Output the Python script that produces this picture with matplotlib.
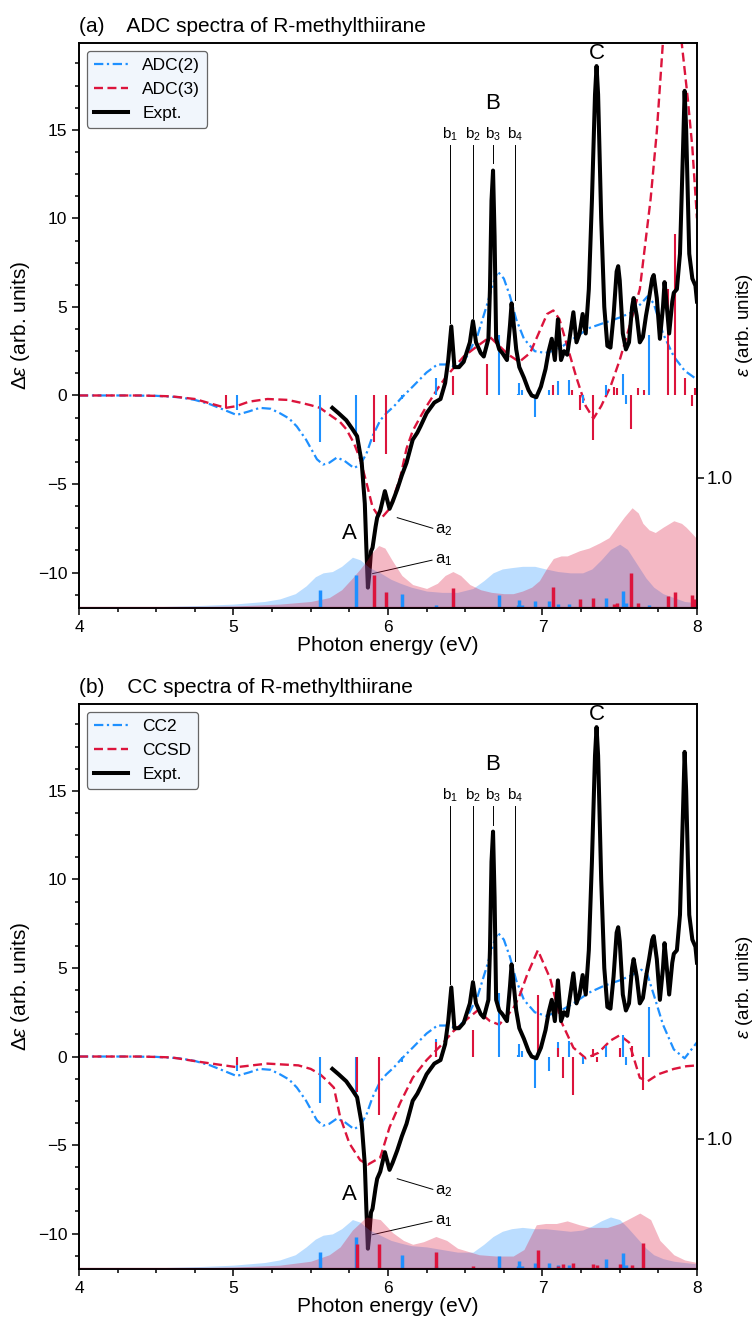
import matplotlib.pyplot as plt
from matplotlib.ticker import MultipleLocator

plt.rcParams['font.family'] = ['Liberation Sans', 'DejaVu Sans']
plt.rcParams['mathtext.fontset'] = 'custom'
plt.rcParams['mathtext.rm'] = 'Liberation Sans'
plt.rcParams['mathtext.it'] = 'Liberation Sans:italic'
plt.rcParams['mathtext.default'] = 'regular'

BLUE = '#1e90ff'
RED = '#dc143c'

# ---- experiment (same in both panels) ----
expt_E = [5.64, 5.68, 5.73, 5.77, 5.80, 5.83, 5.85, 5.86, 5.87, 5.88, 5.89, 5.90,
          5.92, 5.93, 5.95, 5.98, 6.01, 6.03, 6.06, 6.09, 6.12, 6.16, 6.19, 6.21,
          6.25, 6.30, 6.34, 6.37, 6.39, 6.41, 6.43, 6.46, 6.49, 6.53, 6.55, 6.57,
          6.60, 6.62, 6.65, 6.66, 6.67, 6.68, 6.69, 6.70, 6.72, 6.74, 6.77, 6.79,
          6.80, 6.82, 6.83, 6.85, 6.88, 6.91, 6.93, 6.96, 6.99, 7.02, 7.04, 7.06,
          7.08, 7.10, 7.12, 7.14, 7.16, 7.18, 7.20, 7.22, 7.24, 7.26, 7.28, 7.30,
          7.32, 7.34, 7.35, 7.36, 7.38, 7.40, 7.42, 7.44, 7.46, 7.48, 7.49, 7.50,
          7.52, 7.54, 7.56, 7.58, 7.59, 7.61, 7.63, 7.65, 7.67, 7.69, 7.71, 7.72,
          7.74, 7.76, 7.78, 7.79, 7.80, 7.82, 7.84, 7.85, 7.87, 7.89, 7.91, 7.92,
          7.93, 7.95, 7.97, 7.99, 8.00]
expt_d = [-0.7, -1.0, -1.4, -1.9, -2.3, -3.8, -6.1, -8.6, -10.85, -10.0, -8.8, -8.6,
          -7.4, -6.9, -6.5, -5.4, -6.4, -6.0, -5.3, -4.5, -3.8, -2.5, -2.1, -1.75,
          -1.0, -0.4, -0.2, 0.7, 2.0, 3.9, 1.6, 1.6, 1.9, 3.0, 4.2, 3.0,
          2.4, 2.2, 3.2, 6.0, 11.0, 12.7, 9.0, 3.2, 2.6, 2.4, 2.0, 4.0,
          5.2, 3.5, 2.6, 1.6, 1.0, 0.3, 0.0, -0.1, 0.5, 1.5, 2.5, 3.2,
          2.0, 4.3, 2.0, 2.5, 2.3, 3.5, 4.7, 3.0, 3.5, 4.6, 3.5, 6.0,
          11.0, 17.0, 18.6, 17.0, 10.0, 5.0, 2.8, 2.7, 4.5, 7.0, 7.3, 6.5,
          3.5, 2.6, 3.0, 5.0, 5.5, 4.5, 3.0, 3.3, 4.5, 5.5, 6.6, 6.8,
          5.5, 3.2, 5.0, 6.4, 5.5, 3.5, 5.3, 5.8, 6.0, 8.0, 14.0, 17.2,
          15.0, 8.0, 6.6, 6.2, 5.3]

# ---- panel (a): ADC ----
adc2_E = [4.0, 4.3, 4.5, 4.65, 4.75, 4.85, 4.95, 5.02, 5.10, 5.17, 5.24, 5.30,
          5.36, 5.41, 5.47, 5.54, 5.58, 5.62, 5.67, 5.72, 5.78, 5.82, 5.86, 5.90,
          5.95, 5.99, 6.04, 6.08, 6.16, 6.25, 6.32, 6.38, 6.45, 6.51, 6.58, 6.64,
          6.68, 6.71, 6.75, 6.79, 6.83, 6.88, 6.95, 7.02, 7.10, 7.20, 7.30, 7.40,
          7.50, 7.58, 7.64, 7.68, 7.72, 7.78, 7.85, 7.92, 8.00]
adc2_d = [0.0, 0.0, -0.02, -0.1, -0.25, -0.5, -0.85, -1.1, -0.9, -0.7, -0.75, -1.0,
          -1.3, -1.75, -2.5, -3.6, -3.9, -3.8, -3.5, -3.7, -4.1, -3.9, -3.3, -2.3,
          -1.4, -1.0, -0.6, -0.2, 0.5, 1.3, 1.75, 1.75, 1.6, 2.2, 3.4, 5.1,
          6.3, 7.0, 6.6, 5.6, 4.3, 3.2, 2.5, 2.4, 2.6, 3.2, 3.8, 4.1,
          4.4, 4.7, 5.2, 5.6, 5.2, 3.5, 2.2, 1.4, 0.9]
adc3_E = [4.0, 4.4, 4.6, 4.75, 4.85, 4.95, 5.02, 5.10, 5.22, 5.35, 5.43, 5.50,
          5.56, 5.60, 5.64, 5.69, 5.73, 5.78, 5.82, 5.86, 5.90, 5.93, 5.96, 6.00,
          6.03, 6.08, 6.12, 6.16, 6.21, 6.25, 6.29, 6.33, 6.38, 6.44, 6.49, 6.58,
          6.66, 6.72, 6.78, 6.85, 6.92, 6.98, 7.03, 7.07, 7.11, 7.16, 7.22, 7.28,
          7.33, 7.38, 7.44, 7.50, 7.56, 7.63, 7.70, 7.74, 7.78, 7.82, 7.86, 7.90,
          7.94, 7.97, 8.00]
adc3_d = [0.0, 0.0, -0.05, -0.2, -0.45, -0.7, -0.6, -0.35, -0.2, -0.25, -0.4, -0.55,
          -0.7, -0.95, -1.2, -1.5, -1.9, -2.7, -3.6, -4.9, -6.3, -6.7, -6.9, -6.5,
          -5.9, -4.6, -3.0, -2.0, -1.2, -0.6, -0.05, 0.5, 1.1, 1.7, 2.2, 2.8,
          3.3, 2.8, 2.3, 1.9, 2.4, 3.6, 4.6, 4.8, 4.3, 2.8, 1.0, -0.6,
          -1.3, -0.6, 0.5, 2.0, 3.8, 6.0, 11.1, 14.9, 20.0, 24.0, 25.0, 20.0,
          16.8, 14.0, 10.0]

adc2_stick_E = [5.02, 5.56, 5.79, 6.09, 6.31, 6.72, 6.84, 6.85, 6.87, 6.95, 7.04, 7.10,
                7.17, 7.26, 7.41, 7.52, 7.54, 7.69]
adc2_rot = [-0.8, -2.6, -2.2, -0.2, 1.0, 3.4, 0.1, 0.7, 0.3, -1.2, 0.3, 0.8,
            0.9, -0.4, 0.6, 1.2, -0.5, 3.4]
adc2_osc = [0.0, 0.14, 0.25, 0.11, 0.02, 0.10, 0.02, 0.06, 0.02, 0.05, 0.05, 0.03,
            0.03, 0.01, 0.08, 0.13, 0.04, 0.02]
adc3_stick_E = [4.95, 5.91, 5.99, 6.42, 6.64, 7.07, 7.19, 7.24, 7.33, 7.46, 7.48, 7.57,
                7.62, 7.66, 7.81, 7.86, 7.92, 7.97, 7.99]
adc3_rot = [-0.7, -2.6, -3.3, 1.1, 1.8, 0.6, 0.3, -0.8, -2.5, 0.5, 0.4, -1.9,
            0.4, 0.3, 6.0, 9.1, 1.0, -0.6, 0.4]
adc3_osc = [0.0, 0.25, 0.12, 0.15, 0.01, 0.16, 0.01, 0.07, 0.08, 0.03, 0.04, 0.27,
            0.04, 0.01, 0.09, 0.12, 0.01, 0.10, 0.07]

adc2_band_E = [4.0, 4.5, 4.8, 5.0, 5.2, 5.3, 5.4, 5.47, 5.53, 5.58, 5.64, 5.70,
               5.77, 5.82, 5.88, 5.95, 6.02, 6.08, 6.15, 6.25, 6.35, 6.45, 6.55, 6.62,
               6.68, 6.74, 6.80, 6.87, 6.95, 7.02, 7.10, 7.18, 7.26, 7.32, 7.38, 7.44,
               7.50, 7.55, 7.61, 7.67, 7.72, 7.78, 7.85, 7.92, 8.00]
adc2_band = [0.0, 0.01, 0.02, 0.03, 0.05, 0.07, 0.11, 0.17, 0.24, 0.27, 0.28, 0.32,
             0.39, 0.37, 0.31, 0.27, 0.22, 0.19, 0.16, 0.13, 0.12, 0.12, 0.15, 0.21,
             0.27, 0.30, 0.31, 0.32, 0.32, 0.30, 0.28, 0.27, 0.27, 0.30, 0.37, 0.45,
             0.49, 0.45, 0.34, 0.23, 0.16, 0.11, 0.08, 0.05, 0.04]
adc3_band_E = [4.0, 4.5, 5.0, 5.3, 5.5, 5.62, 5.70, 5.77, 5.82, 5.86, 5.90, 5.94,
               5.98, 6.03, 6.09, 6.16, 6.25, 6.32, 6.37, 6.42, 6.47, 6.53, 6.60, 6.67,
               6.75, 6.81, 6.87, 6.93, 6.98, 7.03, 7.07, 7.12, 7.16, 7.20, 7.24, 7.30,
               7.37, 7.43, 7.48, 7.53, 7.58, 7.62, 7.65, 7.69, 7.73, 7.78, 7.85, 7.90,
               7.93, 7.97, 8.00]
adc3_band = [0.0, 0.005, 0.015, 0.03, 0.05, 0.08, 0.14, 0.23, 0.30, 0.36, 0.43, 0.48,
             0.46, 0.36, 0.25, 0.18, 0.15, 0.19, 0.25, 0.28, 0.25, 0.18, 0.14, 0.12,
             0.11, 0.11, 0.13, 0.16, 0.21, 0.31, 0.38, 0.40, 0.40, 0.42, 0.44, 0.46,
             0.50, 0.54, 0.62, 0.70, 0.77, 0.73, 0.65, 0.60, 0.58, 0.62, 0.67, 0.65,
             0.62, 0.57, 0.53]

# ---- panel (b): CC ----
cc2_E = adc2_E
cc2_d = [0.0, 0.0, -0.02, -0.1, -0.25, -0.5, -0.85, -1.1, -0.9, -0.7, -0.75, -1.0,
         -1.3, -1.75, -2.5, -3.6, -3.9, -3.8, -3.5, -3.7, -4.1, -3.9, -3.3, -2.3,
         -1.4, -1.0, -0.6, -0.2, 0.5, 1.3, 1.75, 1.75, 1.6, 2.2, 3.4, 5.1,
         6.3, 7.0, 6.6, 5.6, 4.3, 3.2, 2.5, 2.3, 2.5, 3.0, 3.6, 4.0,
         4.3, 4.6, 4.9, 4.6, 3.5, 1.8, 0.4, -0.1, 0.8]
ccsd_E = [4.0, 4.4, 4.6, 4.78, 4.9, 5.02, 5.12, 5.22, 5.32, 5.42, 5.50, 5.56,
          5.61, 5.65, 5.69, 5.75, 5.82, 5.87, 5.95, 6.01, 6.08, 6.16, 6.25, 6.34,
          6.42, 6.51, 6.58, 6.66, 6.72, 6.81, 6.85, 6.90, 6.97, 7.05, 7.12, 7.20,
          7.28, 7.36, 7.44, 7.50, 7.56, 7.63, 7.68, 7.75, 7.85, 7.93, 8.00]
ccsd_d = [0.0, 0.0, -0.05, -0.3, -0.45, -0.6, -0.5, -0.4, -0.45, -0.5, -0.7, -1.0,
          -1.4, -1.76, -3.4, -4.9, -5.85, -6.1, -5.7, -4.0, -2.6, -1.2, -0.2, 0.6,
          1.4, 2.1, 2.6, 2.0, 1.8, 2.7, 3.4, 4.6, 6.0, 4.4, 2.0, 0.5,
          -0.1, 0.2, 0.9, 1.2, 0.8, -1.2, -1.4, -1.0, -0.7, -0.55, -0.5]

cc2_stick_E = adc2_stick_E
cc2_rot = [-0.8, -2.6, -2.2, -0.3, 1.0, 3.6, 0.1, 0.7, 0.3, -1.8, -0.8, 0.8,
           0.9, -0.4, 0.6, 1.2, -0.5, 2.8]
cc2_osc = [0.0, 0.13, 0.25, 0.11, 0.02, 0.10, 0.02, 0.06, 0.02, 0.05, 0.05, 0.03,
           0.03, 0.01, 0.08, 0.12, 0.03, 0.01]
ccsd_stick_E = [5.02, 5.80, 5.94, 6.31, 6.55, 6.97, 7.10, 7.13, 7.20, 7.33, 7.35, 7.50,
                7.58, 7.65]
ccsd_rot = [-0.5, -2.0, -3.3, 0.8, 1.5, 3.5, 0.5, -1.2, -2.2, 0.4, -0.3, 0.5,
            0.6, -1.9]
ccsd_osc = [0.0, 0.19, 0.19, 0.13, 0.02, 0.15, 0.02, 0.04, 0.05, 0.04, 0.03, 0.04,
            0.03, 0.20]

cc2_band_E = adc2_band_E
cc2_band = [0.0, 0.01, 0.02, 0.03, 0.05, 0.07, 0.11, 0.17, 0.23, 0.26, 0.27, 0.31,
            0.38, 0.36, 0.30, 0.26, 0.22, 0.20, 0.18, 0.17, 0.15, 0.13, 0.13, 0.19,
            0.25, 0.29, 0.31, 0.32, 0.31, 0.31, 0.30, 0.29, 0.30, 0.33, 0.37, 0.40,
            0.38, 0.32, 0.24, 0.16, 0.11, 0.08, 0.06, 0.05, 0.04]
ccsd_band_E = [4.0, 4.5, 5.0, 5.3, 5.5, 5.62, 5.69, 5.77, 5.86, 5.95, 6.03, 6.10,
               6.16, 6.23, 6.31, 6.38, 6.45, 6.59, 6.70, 6.81, 6.88, 6.96, 7.02, 7.09,
               7.16, 7.24, 7.31, 7.42, 7.50, 7.55, 7.63, 7.70, 7.76, 7.85, 7.92, 8.00]
ccsd_band = [0.0, 0.005, 0.015, 0.03, 0.06, 0.11, 0.17, 0.30, 0.40, 0.38, 0.28, 0.22,
             0.19, 0.21, 0.25, 0.22, 0.16, 0.11, 0.10, 0.10, 0.15, 0.34, 0.35, 0.35,
             0.37, 0.34, 0.32, 0.32, 0.35, 0.38, 0.43, 0.38, 0.22, 0.11, 0.07, 0.05]

# peak labels
b_E = [6.40, 6.55, 6.68, 6.82]
b_low = [4.1, 4.4, 13.1, 5.4]


def draw_panel(ax, tag, title, names, curves, sticks, bands):
    (e1, d1), (e2, d2) = curves
    ax.plot(e1, d1, color=BLUE, ls='-.', lw=1.6, dashes=(4.2, 1.6, 1.0, 1.6), label=names[0])
    ax.plot(e2, d2, color=RED, ls='--', lw=1.7, dashes=(3.8, 1.9), label=names[1])
    ax.plot(expt_E, expt_d, color='k', lw=2.9, label='Expt.', zorder=4)

    for (se, rot, osc), col in zip(sticks, [BLUE, RED]):
        ax.vlines(se, 0, rot, color=col, lw=1.5, zorder=3)

    # peak assignments
    for x, lo, i in zip(b_E, b_low, range(1, 5)):
        ax.plot([x, x], [lo, 14.15], color='k', lw=0.7, zorder=5)
        ax.text(x, 14.75, 'b$_%d$' % i, ha='center', va='center', fontsize=11)
    ax.text(6.68, 16.5, 'B', ha='center', va='center', fontsize=16)
    ax.text(7.35, 19.3, 'C', ha='center', va='center', fontsize=16)
    ax.text(5.75, -7.8, 'A', ha='center', va='center', fontsize=16)
    ax.plot([5.90, 6.285], [-10.06, -9.3], color='k', lw=0.7, zorder=5)
    ax.text(6.36, -9.3, 'a$_1$', ha='center', va='center', fontsize=12)
    ax.plot([6.06, 6.29], [-6.9, -7.5], color='k', lw=0.7, zorder=5)
    ax.text(6.36, -7.6, 'a$_2$', ha='center', va='center', fontsize=12)

    ax.set_xlim(4, 8)
    ax.set_ylim(-12, 19.9)
    ax.xaxis.set_major_locator(MultipleLocator(1))
    ax.xaxis.set_minor_locator(MultipleLocator(0.25))
    ax.yaxis.set_major_locator(MultipleLocator(5))
    ax.yaxis.set_minor_locator(MultipleLocator(1.25))
    ax.tick_params(which='both', direction='out', width=1.1, labelsize=12.5)
    ax.tick_params(which='major', length=5)
    ax.tick_params(which='minor', length=3)
    for s in ax.spines.values():
        s.set_linewidth(1.2)
    ax.set_xlabel('Photon energy (eV)', fontsize=15, labelpad=1)
    ax.set_ylabel(r'Δ$\mathit{ε}$ (arb. units)', fontsize=15, labelpad=4)
    ax.set_title(tag + '    ' + title, loc='left', fontsize=15, pad=8)
    leg = ax.legend(loc='upper left', fontsize=12.5, fancybox=True, framealpha=1,
                    facecolor='#f1f6fc', edgecolor='#666666', handlelength=2.0,
                    borderaxespad=0.45)
    leg.get_frame().set_linewidth(0.9)

    # absorption on the right axis
    ax2 = ax.twinx()
    for (be, bv), (se, rot, osc), col in zip(bands, sticks, [BLUE, RED]):
        ax2.fill_between(be, 0, bv, color=col, alpha=0.3, lw=0)
        ax2.vlines(se, 0, osc, color=col, lw=2.5)
    ax2.axhline(0, color='#8b1030', lw=1.6)
    ax2.set_ylim(0, 4.34)
    ax2.set_yticks([1.0])
    ax2.set_yticklabels(['1.0'])
    ax2.tick_params(direction='out', length=5, width=1.1, labelsize=13.5, pad=2)
    ax2.set_ylabel(r'$\mathit{ε}$ (arb. units)', fontsize=13.5, labelpad=1)
    for s in ax2.spines.values():
        s.set_linewidth(1.2)


fig = plt.figure(figsize=(7.53, 13.2), dpi=100)
ax_a = fig.add_axes([0.1049, 0.5394, 0.8207, 0.428])
ax_b = fig.add_axes([0.1049, 0.0386, 0.8207, 0.428])

draw_panel(ax_a, '(a)', 'ADC spectra of R-methylthiirane', ['ADC(2)', 'ADC(3)'],
           [(adc2_E, adc2_d), (adc3_E, adc3_d)],
           [(adc2_stick_E, adc2_rot, adc2_osc), (adc3_stick_E, adc3_rot, adc3_osc)],
           [(adc2_band_E, adc2_band), (adc3_band_E, adc3_band)])
draw_panel(ax_b, '(b)', 'CC spectra of R-methylthiirane', ['CC2', 'CCSD'],
           [(cc2_E, cc2_d), (ccsd_E, ccsd_d)],
           [(cc2_stick_E, cc2_rot, cc2_osc), (ccsd_stick_E, ccsd_rot, ccsd_osc)],
           [(cc2_band_E, cc2_band), (ccsd_band_E, ccsd_band)])

fig.savefig('out.png', dpi=100)
